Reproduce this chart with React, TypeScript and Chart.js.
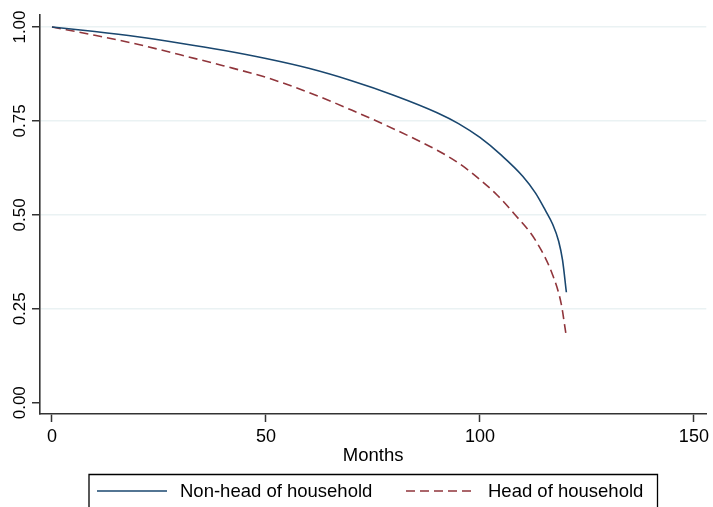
import React, { useEffect, useRef } from "react";
import { Chart, registerables } from "chart.js";

Chart.register(...registerables);

const monthsNonHead = [0, 10, 20, 30, 40, 50, 60, 70, 80, 90, 95, 100, 105, 110, 113, 115.3, 117, 118.4, 119.3, 120.2];
const survNonHead = [1.0, 0.988, 0.974, 0.957, 0.938, 0.916, 0.89, 0.857, 0.818, 0.772, 0.743, 0.706, 0.659, 0.603, 0.558, 0.512, 0.475, 0.43, 0.38, 0.294];

const monthsHead = [0, 10, 20, 30, 40, 50, 60, 70, 80, 90, 95, 100, 104, 108, 113, 117, 119, 120.1];
const survHead = [1.0, 0.978, 0.954, 0.926, 0.897, 0.866, 0.826, 0.779, 0.728, 0.672, 0.638, 0.594, 0.553, 0.503, 0.432, 0.34, 0.263, 0.183];

const seriesLabels = ["Non-head of household", "Head of household"];
const xTicks = [0, 50, 100, 150];
const yTicks = [0, 0.25, 0.5, 0.75, 1];
const yTickLabels = ["0.00", "0.25", "0.50", "0.75", "1.00"];
const xTitle = "Months";

const FONT = "Arial, 'Liberation Sans', sans-serif";
const BLUE = "#1a476f";
const RED = "#90353b";
const AXIS = "#333333";

export default function App() {
  const ref = useRef<HTMLCanvasElement | null>(null);

  useEffect(() => {
    const canvas = ref.current;
    if (!canvas) return;

    const customDraw = {
      id: "customDraw",
      afterDraw(chart: any) {
        const ctx = chart.ctx;
        const ys = chart.scales.y;
        const area = chart.chartArea;
        ctx.save();
        // rotated y tick labels
        ctx.fillStyle = "#000";
        ctx.font = `17px ${FONT}`;
        ctx.textAlign = "center";
        ctx.textBaseline = "alphabetic";
        yTicks.forEach((v, i) => {
          const py = ys.getPixelForValue(v);
          ctx.save();
          ctx.translate(25, py);
          ctx.rotate(-Math.PI / 2);
          ctx.fillText(yTickLabels[i], 0, 0);
          ctx.restore();
        });
        // x title
        ctx.font = `18.5px ${FONT}`;
        ctx.fillText(xTitle, (area.left + area.right) / 2, 461);
        // legend box
        ctx.strokeStyle = "#000";
        ctx.lineWidth = 1.3;
        ctx.beginPath();
        ctx.moveTo(89, 520);
        ctx.lineTo(89, 474.5);
        ctx.lineTo(657.5, 474.5);
        ctx.lineTo(657.5, 520);
        ctx.stroke();
        // legend samples
        const ly = 491;
        ctx.lineWidth = 1.5;
        ctx.strokeStyle = BLUE;
        ctx.setLineDash([]);
        ctx.beginPath();
        ctx.moveTo(97, ly);
        ctx.lineTo(167, ly);
        ctx.stroke();
        ctx.strokeStyle = RED;
        ctx.setLineDash([9, 5]);
        ctx.beginPath();
        ctx.moveTo(406, ly);
        ctx.lineTo(476, ly);
        ctx.stroke();
        ctx.setLineDash([]);
        ctx.font = `18.5px ${FONT}`;
        ctx.textAlign = "left";
        ctx.textBaseline = "middle";
        ctx.fillStyle = "#000";
        ctx.fillText(seriesLabels[0], 180, 492);
        ctx.fillText(seriesLabels[1], 488, 492);
        ctx.restore();
      },
    };

    const chart = new Chart(canvas, {
      type: "line",
      data: {
        datasets: [
          {
            label: seriesLabels[0],
            data: monthsNonHead.map((m, i) => ({ x: m, y: survNonHead[i] })),
            borderColor: BLUE,
            borderWidth: 1.6,
            pointRadius: 0,
            fill: false,
            cubicInterpolationMode: "monotone",
          },
          {
            label: seriesLabels[1],
            data: monthsHead.map((m, i) => ({ x: m, y: survHead[i] })),
            borderColor: RED,
            borderWidth: 1.6,
            borderDash: [9, 5],
            pointRadius: 0,
            fill: false,
            cubicInterpolationMode: "monotone",
          },
        ],
      },
      options: {
        animation: false,
        responsive: false,
        maintainAspectRatio: false,
        layout: { padding: { left: 0, right: 5, top: 15, bottom: 0 } },
        plugins: {
          legend: { display: false },
          tooltip: { enabled: false },
        },
        scales: {
          x: {
            type: "linear",
            min: -2.8,
            max: 152.9,
            afterBuildTicks: (s: any) => {
              s.ticks = xTicks.map((v) => ({ value: v }));
            },
            afterFit: (s: any) => {
              s.height = 93;
            },
            ticks: {
              color: "#000",
              font: { family: FONT, size: 18 },
              padding: 4,
              maxRotation: 0,
              minRotation: 0,
              callback: (v: any) => String(v),
            },
            grid: {
              drawOnChartArea: false,
              drawTicks: true,
              tickLength: 8,
              tickColor: AXIS,
              tickWidth: 1.5,
            },
            border: { display: true, color: AXIS, width: 1.6 },
          },
          y: {
            type: "linear",
            min: -0.03,
            max: 1.032,
            afterBuildTicks: (s: any) => {
              s.ticks = yTicks.map((v) => ({ value: v }));
            },
            afterFit: (s: any) => {
              s.width = 40;
            },
            ticks: {
              callback: () => "",
              padding: 0,
            },
            grid: {
              color: (c: any) => (c.tick && c.tick.value === 0 ? "rgba(0,0,0,0)" : "#eaf2f3"),
              lineWidth: 1.5,
              drawTicks: true,
              tickLength: 8,
              tickColor: AXIS,
              tickWidth: 1.5,
            },
            border: { display: true, color: AXIS, width: 1.6 },
          },
        },
      },
      plugins: [customDraw],
    });

    return () => chart.destroy();
  }, []);

  return (
    <div style={{ position: "fixed", left: 0, top: 0, width: 713, height: 507, background: "#fff" }}>
      <canvas ref={ref} width={713} height={507} style={{ display: "block", width: 713, height: 507 }} />
    </div>
  );
}
